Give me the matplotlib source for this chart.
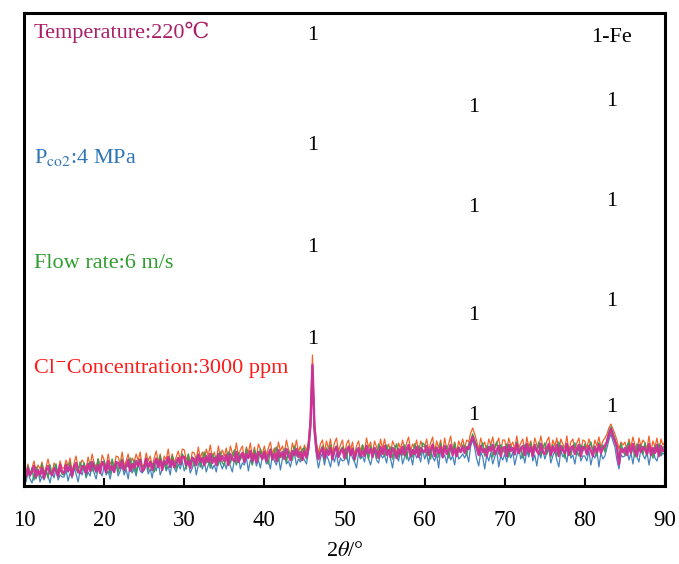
import numpy as np
import matplotlib
matplotlib.use("Agg")
import matplotlib.pyplot as plt

plt.rcParams['font.family'] = ['Liberation Serif', 'DejaVu Serif', 'DejaVu Sans']
plt.rcParams['mathtext.fontset'] = 'stix'

# 2theta scan grid (degrees), 0.25 deg step
two_theta = np.arange(10.0, 90.001, 0.25)

# intensities (arbitrary units), 20 points per 5 degrees
orange = [19, 14, 22, 11, 18, 25, 14, 21, 17, 24, 13, 19, 27, 17, 12, 23, 19, 14, 25, 18,
          18, 26, 20, 28, 14, 23, 30, 18, 20, 26, 23, 17, 29, 20, 32, 23, 19, 27, 17, 31,
          26, 18, 32, 22, 25, 18, 30, 29, 22, 34, 20, 25, 32, 19, 28, 24, 32, 25, 34, 19,
          22, 33, 25, 30, 19, 28, 35, 24, 32, 19, 30, 26, 37, 23, 32, 23, 29, 35, 26, 37,
          36, 26, 31, 22, 34, 33, 26, 39, 28, 34, 25, 37, 30, 41, 28, 34, 24, 40, 30, 36,
          30, 38, 25, 40, 33, 29, 43, 30, 36, 40, 28, 39, 33, 43, 29, 39, 28, 42, 37, 32,
          40, 31, 38, 44, 32, 38, 29, 44, 35, 40, 32, 46, 37, 30, 43, 35, 46, 34, 40, 30,
          41, 35, 44, 70, 131, 66, 43, 33, 42, 46, 34, 45, 37, 47, 33, 43, 48, 35, 41, 46,
          32, 42, 46, 36, 44, 31, 40, 45, 35, 41, 35, 48, 38, 44, 33, 45, 39, 32, 47, 37,
          47, 36, 42, 33, 45, 40, 32, 43, 37, 46, 36, 43, 49, 35, 42, 38, 46, 33, 45, 40,
          39, 47, 36, 43, 49, 34, 45, 38, 46, 33, 48, 37, 42, 50, 36, 44, 34, 45, 39, 47,
          38, 46, 44, 53, 58, 52, 45, 36, 48, 40, 44, 35, 47, 41, 49, 37, 43, 48, 35, 46,
          46, 35, 48, 40, 44, 37, 50, 38, 43, 47, 34, 49, 39, 45, 35, 48, 41, 38, 50, 39,
          37, 45, 49, 35, 46, 40, 48, 34, 47, 42, 38, 50, 35, 44, 47, 37, 43, 48, 34, 46,
          45, 38, 47, 41, 36, 46, 40, 49, 39, 45, 48, 52, 58, 62, 57, 52, 46, 37, 44, 41,
          44, 35, 47, 39, 49, 41, 34, 48, 40, 46, 43, 37, 50, 35, 45, 39, 48, 34, 47, 41,
          44]
blue = [10, 4, 14, 7, 3, 12, 7, 16, 4, 10, 6, 14, 10, 3, 14, 8, 18, 6, 11, 9,
        9, 16, 5, 13, 8, 19, 12, 4, 15, 11, 19, 8, 14, 10, 21, 13, 7, 18, 14, 10,
        20, 11, 15, 7, 17, 14, 23, 10, 15, 20, 11, 17, 7, 22, 13, 17, 10, 22, 15, 13,
        16, 23, 12, 17, 8, 21, 15, 25, 11, 17, 23, 15, 20, 11, 25, 18, 14, 22, 17, 25,
        15, 21, 26, 13, 18, 25, 11, 21, 28, 17, 24, 14, 21, 27, 17, 21, 14, 27, 23, 17,
        23, 17, 28, 20, 14, 26, 22, 31, 17, 23, 21, 29, 15, 26, 22, 32, 20, 26, 18, 29,
        30, 22, 25, 17, 32, 25, 21, 30, 16, 27, 34, 22, 25, 19, 29, 33, 21, 27, 24, 29,
        26, 22, 34, 56, 115, 52, 30, 18, 28, 33, 21, 31, 26, 19, 30, 24, 33, 20, 28, 25,
        26, 32, 21, 35, 28, 24, 18, 33, 27, 30, 24, 36, 27, 21, 30, 35, 26, 23, 32, 28,
        31, 23, 35, 27, 18, 32, 29, 25, 36, 22, 29, 34, 25, 31, 21, 35, 28, 32, 24, 37,
        27, 33, 22, 36, 29, 25, 32, 18, 37, 28, 31, 23, 35, 26, 30, 21, 36, 27, 29, 32,
        28, 33, 24, 40, 46, 38, 27, 20, 34, 29, 17, 31, 25, 33, 22, 29, 35, 19, 30, 26,
        32, 24, 37, 28, 34, 21, 30, 38, 27, 33, 23, 35, 29, 39, 25, 31, 20, 34, 28, 37,
        27, 33, 38, 23, 30, 35, 26, 19, 36, 29, 32, 24, 38, 28, 31, 22, 34, 37, 25, 30,
        30, 25, 35, 21, 31, 28, 36, 19, 33, 27, 30, 38, 46, 52, 45, 39, 26, 17, 31, 29,
        30, 37, 26, 33, 22, 36, 29, 24, 38, 31, 27, 34, 21, 32, 37, 28, 25, 35, 30, 33,
        31]
green = [15, 7, 20, 10, 18, 6, 19, 14, 9, 22, 12, 17, 8, 21, 11, 16, 22, 9, 17, 12,
         11, 22, 14, 24, 9, 20, 17, 13, 24, 16, 23, 10, 20, 24, 15, 23, 13, 27, 18, 22,
         25, 16, 20, 12, 27, 18, 24, 14, 23, 27, 15, 22, 19, 28, 16, 26, 13, 24, 27, 19,
         19, 28, 16, 25, 22, 14, 28, 19, 30, 21, 26, 17, 28, 19, 30, 24, 17, 28, 21, 32,
         28, 17, 32, 22, 29, 20, 27, 32, 19, 26, 34, 23, 30, 18, 32, 26, 30, 21, 34, 23,
         21, 30, 34, 23, 29, 36, 21, 33, 26, 32, 24, 37, 28, 32, 21, 36, 31, 26, 37, 27,
         35, 28, 22, 37, 26, 34, 39, 25, 33, 28, 37, 24, 35, 32, 26, 40, 30, 35, 26, 37,
         38, 27, 41, 60, 118, 57, 39, 29, 35, 40, 26, 38, 33, 41, 28, 37, 40, 30, 36, 39,
         36, 27, 40, 31, 38, 25, 37, 34, 28, 41, 31, 36, 27, 40, 33, 38, 28, 42, 32, 37,
         30, 41, 33, 39, 27, 37, 42, 29, 36, 31, 41, 27, 39, 36, 29, 42, 33, 40, 31, 43,
         41, 31, 37, 27, 42, 34, 39, 29, 43, 32, 36, 40, 28, 38, 33, 43, 30, 39, 34, 41,
         40, 31, 42, 45, 52, 46, 41, 33, 38, 43, 30, 40, 35, 42, 29, 39, 44, 32, 41, 37,
         33, 42, 29, 40, 37, 31, 44, 34, 39, 28, 41, 38, 32, 43, 30, 39, 35, 44, 31, 38,
         43, 32, 38, 29, 41, 37, 30, 44, 33, 40, 28, 42, 36, 31, 39, 43, 34, 30, 41, 35,
         42, 31, 39, 44, 35, 40, 30, 43, 37, 41, 34, 46, 54, 59, 53, 47, 38, 27, 42, 36,
         31, 40, 44, 33, 38, 29, 42, 35, 41, 32, 43, 30, 39, 37, 28, 40, 34, 42, 31, 39,
         39]
magenta = [16, 9, 18, 11, 14, 20, 9, 16, 11, 18, 8, 15, 20, 13, 11, 18, 15, 10, 21, 14,
           13, 21, 15, 20, 10, 19, 23, 15, 13, 20, 19, 13, 22, 15, 24, 19, 15, 21, 13, 24,
           21, 14, 25, 16, 20, 14, 24, 23, 18, 25, 16, 20, 26, 15, 22, 18, 25, 20, 26, 15,
           17, 27, 19, 24, 16, 23, 27, 19, 26, 16, 25, 22, 29, 19, 26, 19, 24, 28, 22, 29,
           29, 21, 25, 18, 28, 27, 21, 31, 24, 28, 21, 30, 24, 32, 23, 28, 21, 32, 25, 30,
           25, 31, 21, 32, 27, 25, 34, 24, 30, 33, 24, 32, 28, 35, 25, 32, 24, 34, 31, 27,
           34, 25, 32, 36, 27, 32, 25, 36, 29, 34, 27, 37, 31, 26, 35, 31, 37, 29, 34, 26,
           35, 29, 38, 62, 121, 58, 36, 27, 34, 38, 28, 36, 31, 38, 27, 35, 39, 29, 34, 37,
           28, 36, 39, 31, 37, 27, 34, 38, 30, 35, 30, 40, 33, 37, 29, 38, 34, 28, 39, 32,
           40, 31, 36, 29, 38, 35, 28, 37, 32, 39, 31, 37, 41, 30, 36, 32, 39, 29, 38, 35,
           34, 40, 31, 37, 41, 30, 38, 33, 39, 29, 40, 32, 36, 41, 31, 37, 30, 38, 34, 39,
           33, 39, 37, 44, 49, 43, 38, 31, 40, 34, 37, 30, 39, 35, 41, 32, 36, 40, 30, 38,
           39, 30, 41, 35, 38, 32, 42, 33, 37, 40, 31, 42, 34, 39, 30, 41, 35, 32, 42, 34,
           32, 38, 42, 31, 39, 34, 41, 30, 40, 36, 33, 42, 31, 38, 40, 32, 37, 41, 30, 39,
           38, 32, 40, 35, 30, 39, 34, 41, 33, 38, 40, 44, 51, 57, 50, 45, 39, 22, 37, 34,
           38, 31, 40, 33, 42, 35, 30, 41, 34, 39, 37, 32, 42, 31, 38, 33, 41, 30, 40, 35,
           37]

series_colors = ['#F0591E', '#3C7CB8', '#3A9A55', '#D02E96']
series_widths = [0.9, 0.9, 1.1, 1.8]

# peak marker labels: (2theta, height)
peak_label_x = [46.0, 46.0, 46.0, 46.0, 66.1, 66.1, 66.1, 66.1, 83.3, 83.3, 83.3, 83.3]
peak_label_y = [451, 340, 238, 146, 379, 278, 171, 70, 385, 285, 184, 78]

condition_texts = ['Temperature:220\u2103', r'P$_{\rm co2}$:4 MPa', 'Flow rate:6 m/s',
                   'Cl\u207bConcentration:3000 ppm']
condition_colors = ['#AA2068', '#2E75B6', '#2E9E2E', '#FF1A1A']
condition_y = [454, 328, 223, 118]

xticks = [10, 20, 30, 40, 50, 60, 70, 80, 90]

fig = plt.figure(figsize=(6.79, 5.64), dpi=100)
ax = fig.add_axes([24/679, 78/564, (665-24)/679, (486-13)/564])

for ys, c, w in zip([orange, blue, green, magenta], series_colors, series_widths):
    n = min(len(ys), len(two_theta))
    ax.plot(two_theta[:n], ys[:n], color=c, lw=w, alpha=0.95)

for x, y in zip(peak_label_x, peak_label_y):
    ax.text(x, y, '1', ha='center', va='center', fontsize=16, color='black')
ax.text(83.3, 448, '1-Fe', ha='center', va='center', fontsize=16, color='black')

for t, c, y in zip(condition_texts, condition_colors, condition_y):
    ax.text(11.25, y, t, ha='left', va='center', fontsize=16, color=c)

ax.set_xlim(10, 90)
ax.set_ylim(0, 473)
ax.set_xticks(xticks)
ax.set_xticklabels([str(v) for v in xticks])
ax.set_yticks([])
ax.tick_params(axis='x', direction='in', length=6, width=1.5, labelsize=16.5, pad=17)
for s in ax.spines.values():
    s.set_linewidth(2.2)
    s.set_color('black')
ax.set_xlabel(r'2$\it{\theta}$/°', fontsize=16, labelpad=8)

fig.savefig('out.png', dpi=100)
